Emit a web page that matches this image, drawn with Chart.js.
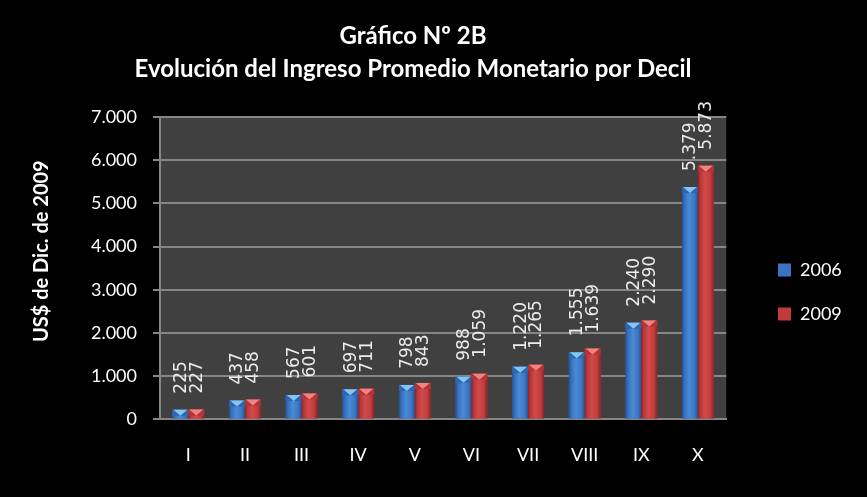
<!DOCTYPE html>
<html>
<head>
<meta charset="utf-8">
<script src="https://cdn.jsdelivr.net/npm/chart.js@4"></script>
<style>
html,body{margin:0;padding:0;background:#000;}
#wrap{width:867px;height:497px;position:relative;background:#000;}
</style>
</head>
<body>
<div id="wrap"><canvas id="c"></canvas></div>
<script>
const categories = ['I','II','III','IV','V','VI','VII','VIII','IX','X'];
const seriesNames = ['2006','2009'];
const values2006 = [225, 437, 567, 697, 798, 988, 1220, 1555, 2240, 5379];
const values2009 = [227, 458, 601, 711, 843, 1059, 1265, 1639, 2290, 5873];
const titleLines = ['Gráfico Nº 2B','Evolución del Ingreso Promedio Monetario por Decil'];
const yAxisTitle = 'US$ de Dic. de 2009';

const palettes = [
  {base:'#3a74c0', stops:[[0,'#22508f'],[0.15,'#3570bd'],[0.45,'#4a8ad6'],[0.8,'#3a76c4'],[1,'#24528f']], side:'#2f66ad', tri:'#86c4f2'},
  {base:'#c03a3c', stops:[[0,'#8a2224'],[0.15,'#b8383a'],[0.45,'#d24a4a'],[0.8,'#c03c3e'],[1,'#8a2224']], side:'#b23436', tri:'#f08484'}
];

function fmt(n){ return String(n).replace(/\B(?=(\d{3})+(?!\d))/g,'.'); }

const deco = {
  id:'deco',
  beforeDraw(chart){
    const {ctx, chartArea:a} = chart;
    ctx.save();
    ctx.fillStyle = '#404040';
    ctx.fillRect(a.left, a.top, a.right-a.left, a.bottom-a.top);
    ctx.restore();
  },
  afterLayout(chart){
    const L = chart.legend;
    const w = L.width, h = L.height;
    L.left = 752; L.right = 752 + w;
    L.top = 235; L.bottom = 235 + h;
  },
  afterDatasetsDraw(chart){
    const ctx = chart.ctx;
    chart.data.datasets.forEach((ds, i) => {
      const meta = chart.getDatasetMeta(i);
      const p = palettes[i];
      meta.data.forEach((el, j) => {
        const {x, y, base, width} = el.getProps(['x','y','base','width'], true);
        const l = x - width/2, r = x + width/2, h = base - y;
        ctx.save();
        const g = ctx.createLinearGradient(l, 0, r, 0);
        p.stops.forEach(s => g.addColorStop(s[0], s[1]));
        ctx.fillStyle = g;
        ctx.fillRect(l, y, width, h);
        const bh = Math.min(6, h);
        ctx.fillStyle = p.side;
        ctx.fillRect(l, y, width, bh);
        ctx.beginPath();
        ctx.moveTo(l+1, y);
        ctx.lineTo(r-1, y);
        ctx.lineTo(x, y + bh);
        ctx.closePath();
        ctx.fillStyle = p.tri;
        ctx.fill();
        // value label
        ctx.translate(x + 1, y - 16);
        ctx.rotate(-Math.PI/2);
        ctx.fillStyle = '#ececec';
        ctx.font = '17px "DejaVu Sans"';
        ctx.textAlign = 'left';
        ctx.textBaseline = 'middle';
        ctx.fillText(fmt(ds.data[j]), 0, 0);
        ctx.restore();
      });
    });
  }
};

new Chart(document.getElementById('c'), {
  type:'bar',
  data:{
    labels: categories,
    datasets:[
      {label: seriesNames[0], data: values2006, backgroundColor: palettes[0].base, barPercentage:1, categoryPercentage:0.56},
      {label: seriesNames[1], data: values2009, backgroundColor: palettes[1].base, barPercentage:1, categoryPercentage:0.56}
    ]
  },
  options:{
    responsive:true,
    maintainAspectRatio:false,
    animation:false,
    layout:{padding:{left:0, right:41, top:0, bottom:6}},
    plugins:{
      title:{display:true, text:titleLines, color:'#ffffff',
        font:{family:'Lato', size:24, weight:'bold', lineHeight:1.375},
        padding:{top:20, bottom:31}},
      legend:{display:true, position:'right', align:'start', fullSize:false,
        labels:{color:'#ffffff', font:{family:'Lato', size:18}, boxWidth:13, boxHeight:13, padding:26}},
      tooltip:{enabled:false}
    },
    scales:{
      x:{
        grid:{display:false, drawTicks:false},
        border:{display:true, color:'#868686', width:2},
        ticks:{color:'#ffffff', font:{family:'Lato', size:18}, padding:25}
      },
      y:{
        min:0, max:7000,
        afterFit(scale){ scale.width = 160; },
        grid:{color:'#868686', lineWidth:2, tickLength:7, drawTicks:true},
        border:{display:true, color:'#868686', width:2},
        ticks:{stepSize:1000, color:'#ffffff', font:{family:'Lato', size:18}, padding:16,
          callback:(v)=>fmt(v)},
        title:{display:true, text:'       ' + yAxisTitle, color:'#ffffff',
          font:{family:'Lato', size:20, weight:'bold', lineHeight:1.2},
          padding:{top:30, bottom:0}}
      }
    }
  },
  plugins:[deco]
});
</script>
</body>
</html>
